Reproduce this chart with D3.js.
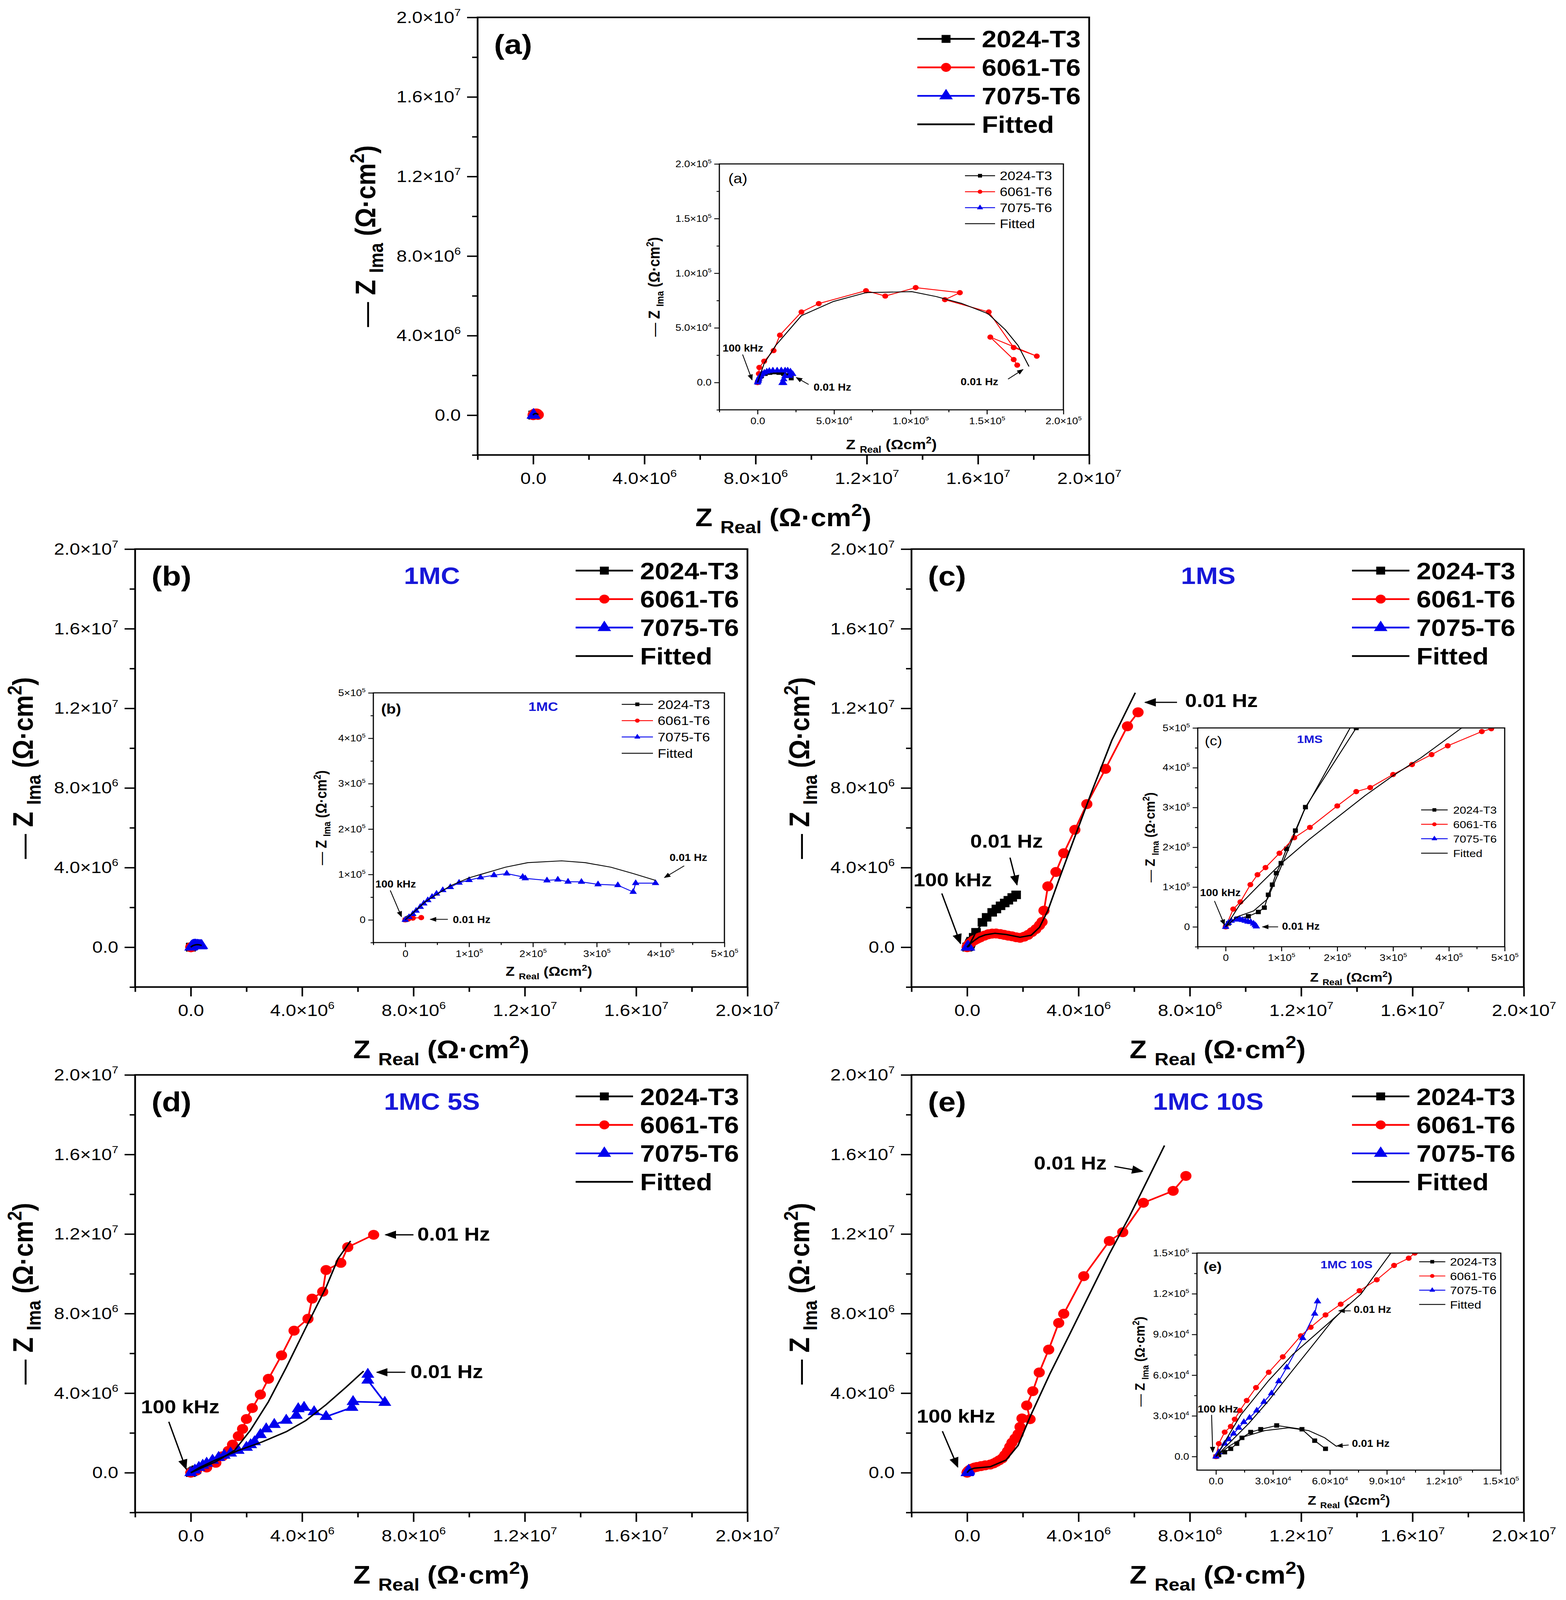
<!DOCTYPE html>
<html>
<head>
<meta charset="utf-8">
<script src="https://cdn.jsdelivr.net/npm/d3@7"></script>
<style>
  html, body { margin: 0; padding: 0; background: #fff; overflow: hidden; }
  #fig { display: block; width: 100vw; height: 100vh; }
  text { font-family: "Liberation Sans", Arial, sans-serif; }
</style>
</head>
<body>
<svg id="fig" viewBox="0 0 4010 4607" preserveAspectRatio="none"></svg>
<script>
// ---- data (Z real, -Z imaginary) ----
const legendNames = ["2024-T3", "6061-T6", "7075-T6", "Fitted"];

const mainMajor = [0, 4e6, 8e6, 1.2e7, 1.6e7, 2e7];
const mainMinor = [-2e6, 2e6, 6e6, 1e7, 1.4e7, 1.8e7];
const insetMajorA = [0, 5e4, 1e5, 1.5e5, 2e5];
const insetMinorA = [-2.5e4, 2.5e4, 7.5e4, 1.25e5, 1.75e5];
const insetMajorBC = [0, 1e5, 2e5, 3e5, 4e5, 5e5];
const insetMinorBC = [-5e4, 5e4, 1.5e5, 2.5e5, 3.5e5, 4.5e5];
const insetMajorE = [0, 3e4, 6e4, 9e4, 1.2e5, 1.5e5];
const insetMinorE = [1.5e4, 4.5e4, 7.5e4, 1.05e5, 1.35e5];

// (a) bare
const a2024 = [[0,0],[1000,3000],[2500,6000],[5000,8000],[8000,9000],[11000,9500],[14000,9000],[17000,8000],[20000,6500],[22000,4000]];
const a6061 = [[0,0],[800,8000],[1100,13700],[4300,19500],[10500,29200],[14600,43300],[28700,64500],[40000,72200],[70900,84000],[83500,79100],[103400,86800],[132300,82200],[122500,75800],[151200,64500],[167500,32000],[182600,24100],[152200,41500],[167500,21000],[169800,15900]];
const a7075 = [[0,0],[300,1200],[500,2000],[800,3600],[1300,5000],[2000,6500],[3000,7800],[4400,9000],[6000,9900],[7700,10600],[10000,10900],[12800,10900],[15500,11000],[18000,10900],[19700,10900],[21500,10000],[23000,7700],[21000,6000],[17900,5800],[17100,3000],[17100,-500],[16000,-500]];
const aFit6061 = [[0,0],[4300,17400],[11800,33800],[28700,61200],[49300,74000],[70900,82200],[100900,83100],[116900,78600],[133800,72200],[150700,63000],[161900,48400],[170400,33800],[177500,14600]];

// (b) 1MC
const b2024 = [[0,0],[3000,3000],[6000,5000],[9000,6000]];
const b6061 = [[0,0],[5000,2000],[12000,4000],[25000,5000]];
const b7075 = [[0,0],[6000,6000],[11800,12800],[17000,20000],[23500,28400],[29000,36000],[35300,43200],[42000,50500],[49000,57600],[58800,65400],[70600,72000],[84300,81700],[100000,87500],[118000,93400],[139000,98400],[159000,102000],[184000,94600],[188000,91400],[222000,86800],[239000,88700],[255000,84000],[276000,83700],[302000,78200],[333000,76300],[357000,61500],[361000,80900],[392000,80900]];
const bFit7075 = [[0,0],[31400,40000],[70600,75000],[100000,92600],[118000,100000],[157000,116000],[192000,126000],[245000,130000],[282000,126000],[322000,116000],[357000,102000],[392000,87000]];

// (c) 1MS
const c2024 = [[0,0],[5000,8600],[19300,19400],[40700,26600],[58600,37400],[69300,48200],[76400,80600],[83600,106000],[90700,135000],[99300,160000],[109000,196000],[125000,242000],[143000,301000],[234000,500000],[320000,750000],[550000,1250000],[700000,1500000],[900000,1750000],[1050000,1920000],[1200000,2080000],[1350000,2220000],[1480000,2360000],[1620000,2500000],[1760000,2630000]];
const c6061 = [[0,0],[13600,44600],[26400,62600],[44300,106000],[57100,131000],[71400,149000],[96400,185000],[123000,224000],[151000,250000],[200000,304000],[234000,340000],[259000,350000],[300000,383000],[334000,408000],[369000,433000],[398000,455000],[459000,491000],[476000,498000],[620000,580000],[760000,650000],[900000,685000],[1040000,690000],[1190000,660000],[1330000,620000],[1470000,580000],[1610000,550000],[1760000,500000],[1900000,470000],[2050000,530000],[2190000,620000],[2330000,760000],[2470000,910000],[2600000,1100000],[2690000,1270000],[2760000,1840000],[2900000,3060000],[3190000,3780000],[3470000,4720000],[3870000,5900000],[4300000,7190000],[4970000,8960000],[5760000,11100000],[6140000,11800000]];
const c7075 = [[0,0],[5000,10000],[10000,15000],[18000,18000],[25000,20000],[30000,17000],[35000,15000],[40000,13000],[45000,12000],[50000,8000],[53000,4000],[55000,1000]];
const cFit2024 = [[0,0],[20000,25000],[50000,40000],[75000,70000],[90000,120000],[105000,170000],[140000,290000],[223000,500000],[320000,780000],[600000,1300000],[900000,1780000],[1300000,2200000],[1760000,2630000]];
const cFit6061 = [[0,0],[25000,55000],[60000,105000],[100000,160000],[150000,220000],[200000,275000],[250000,330000],[300000,380000],[350000,425000],[423000,500000],[650000,620000],[1000000,700000],[1400000,640000],[1900000,500000],[2300000,600000],[2600000,1000000],[2900000,1840000],[3300000,3400000],[3830000,5400000],[4500000,7900000],[5200000,10400000],[6040000,12780000]];

// (d) 1MC 5S
const d2024 = [[0,0],[60000,50000],[120000,100000],[200000,150000]];
const d6061 = [[0,0],[200000,100000],[570000,260000],[900000,500000],[1140000,830000],[1350000,1100000],[1500000,1410000],[1710000,1840000],[1860000,2200000],[2000000,2700000],[2210000,3250000],[2500000,3930000],[2790000,4720000],[3260000,5900000],[3710000,7140000],[4210000,7740000],[4360000,8750000],[4740000,9100000],[4860000,10190000],[5390000,10550000],[5640000,11340000],[6570000,11960000]];
const d7075 = [[0,0],[150000,130000],[290000,260000],[430000,370000],[570000,470000],[780000,620000],[1000000,760000],[1200000,870000],[1430000,980000],[1700000,1120000],[2000000,1270000],[2150000,1400000],[2290000,1550000],[2500000,1910000],[2710000,2200000],[3000000,2420000],[3430000,2630000],[3790000,2880000],[3860000,3210000],[4070000,3280000],[4430000,3060000],[4860000,2820000],[5790000,3280000],[5830000,3570000],[6970000,3530000],[6360000,4650000],[6360000,4940000]];
const dFit6061 = [[0,0],[400000,250000],[900000,550000],[1570000,1120000],[2140000,2130000],[2790000,3570000],[3430000,5290000],[4140000,7310000],[4860000,9320000],[5290000,10760000],[5740000,11650000]];
const dFit7075 = [[0,0],[300000,250000],[860000,620000],[1710000,1120000],[2570000,1550000],[3430000,2060000],[4140000,2630000],[4860000,3420000],[5570000,4290000],[6210000,5110000]];

// (e) 1MC 10S
const e2024 = [[0,0],[1500,1100],[4600,3200],[7800,5700],[11000,9500],[13700,13800],[18300,18000],[23600,20100],[32000,22900],[45300,20100],[52000,11700],[57700,5700]];
const e6061 = [[0,0],[1500,9500],[4600,18000],[7800,22200],[9900,27500],[12600,33900],[16200,41300],[21100,50800],[27800,62100],[35200,73500],[44700,89000],[49900,95300],[57700,104400],[65700,112300],[75600,122200],[84700,130300],[93800,140900],[101500,146200],[104700,150000],[150000,200000],[260000,260000],[350000,290000],[500000,330000],[650000,370000],[830000,410000],[950000,470000],[1050000,540000],[1150000,620000],[1260000,720000],[1350000,880000],[1450000,1080000],[1530000,1300000],[1610000,1510000],[1720000,1720000],[1830000,1940000],[1900000,2300000],[1970000,2730000],[2260000,2690000],[2140000,3380000],[2360000,4100000],[2590000,5040000],[2930000,6190000],[3290000,7530000],[3470000,7990000],[4190000,9880000],[5110000,11650000],[5590000,12090000],[6330000,13570000],[7400000,14170000],[7860000,14920000]];
const e7075 = [[0,0],[1500,3200],[4600,9500],[6700,12700],[9300,16900],[12000,21200],[14700,25400],[17700,28600],[21500,33900],[25300,40300],[29300,46600],[33100,55500],[37300,65700],[45700,87300],[52000,105300],[53500,114400]];
const eFit2024 = [[0,0],[6700,7400],[15200,14800],[25700,19100],[38300,21200],[48900,19100],[57300,13800],[63600,7400]];
const eFit6061 = [[0,0],[13100,30700],[27800,56100],[40400,75200],[59400,98500],[76300,119700],[92100,150000],[260000,230000],[830000,300000],[1400000,640000],[1830000,1370000],[2260000,2810000],[2970000,4960000],[3690000,6980000],[4400000,8990000],[5110000,11000000],[5830000,12880000],[6540000,14890000],[7090000,16450000]];
const eFit7075 = [[0,0],[6700,9500],[17300,24400],[27800,41300],[40400,63600],[53100,85800],[61500,100600],[69900,112300]];

// ---- drawing ----
const svg = d3.select("#fig");
svg.append("rect").attr("width", 4010).attr("height", 4607).attr("fill", "#fff");
const defs = svg.append("defs");

function arrowDef(id, w, h) {
  defs.append("marker").attr("id", id)
    .attr("viewBox", "0 0 10 8").attr("refX", 9).attr("refY", 4)
    .attr("markerWidth", w).attr("markerHeight", h)
    .attr("markerUnits", "userSpaceOnUse").attr("orient", "auto")
    .append("path").attr("d", "M0,0L10,4L0,8Z").attr("fill", "#000");
}
arrowDef("arrMain", 30, 24);
arrowDef("arrInset", 17, 14);

const RED = "#ff0000", BLUE = "#0000ee", TITLE_BLUE = "#1717d8";
const symFor = [d3.symbolSquare, d3.symbolCircle, d3.symbolTriangle];
const colFor = ["#000", RED, BLUE];

const mainSt = { frame: 4.5, tickMaj: 27, tickMin: 14, tickW: 4, tickFont: 48, padX: 22, padY: 16,
  line: 4.5, fitW: 4, msize: [600, 640, 480], arrow: "arrMain", arrowW: 3.5, noteFont: 54 };
const insetSt = { frame: 3, tickMaj: 13, tickMin: 7, tickW: 2.5, tickFont: 27, padX: 9, padY: 7,
  line: 2.5, fitW: 2.5, msize: [160, 180, 160], arrow: "arrInset", arrowW: 2.2, noteFont: 28 };

let clipN = 0;

function sciLabel(t, v, dec, fs) {
  t.text(null);
  if (v === 0) { t.append("tspan").text(dec ? "0.0" : "0"); return; }
  const e = Math.floor(Math.log10(Math.abs(v)) + 1e-9);
  const m = v / Math.pow(10, e);
  t.append("tspan").text(m.toFixed(dec) + "×10");
  t.append("tspan").attr("dy", -0.42 * fs).attr("font-size", 0.62 * fs).text(e);
}

function drawPlot(o) {
  const st = o.st;
  const x = d3.scaleLinear().domain(o.xd).range([o.x0, o.x0 + o.w]);
  const y = d3.scaleLinear().domain(o.yd).range([o.y0 + o.h, o.y0]);
  const g = svg.append("g");
  if (o.inset) g.append("rect").attr("x", o.x0).attr("y", o.y0).attr("width", o.w).attr("height", o.h).attr("fill", "#fff");
  const cid = "clip" + (clipN++);
  defs.append("clipPath").attr("id", cid).append("rect")
    .attr("x", o.x0).attr("y", o.y0).attr("width", o.w).attr("height", o.h);

  const tidy = ax => {
    ax.select(".domain").remove();
    ax.attr("font-family", null).attr("font-size", st.tickFont);
    ax.selectAll(".tick line").attr("stroke-width", st.tickW);
  };
  g.append("g").attr("transform", `translate(0,${o.y0 + o.h})`)
    .call(d3.axisBottom(x).tickValues(o.xMinor).tickSize(st.tickMin).tickFormat(() => "")).call(tidy);
  g.append("g").attr("transform", `translate(${o.x0},0)`)
    .call(d3.axisLeft(y).tickValues(o.yMinor).tickSize(st.tickMin).tickFormat(() => "")).call(tidy);
  const xa = g.append("g").attr("transform", `translate(0,${o.y0 + o.h})`)
    .call(d3.axisBottom(x).tickValues(o.xMajor).tickSize(st.tickMaj).tickPadding(st.padX)).call(tidy);
  xa.selectAll(".tick text").each(function (d) { sciLabel(d3.select(this), d, o.dec, st.tickFont); });
  const ya = g.append("g").attr("transform", `translate(${o.x0},0)`)
    .call(d3.axisLeft(y).tickValues(o.yMajor).tickSize(st.tickMaj).tickPadding(st.padY)).call(tidy);
  ya.selectAll(".tick text").each(function (d) { sciLabel(d3.select(this), d, o.dec, st.tickFont); });

  const pg = g.append("g").attr("clip-path", `url(#${cid})`);
  const line = d3.line().x(d => x(d[0])).y(d => y(d[1]));
  o.series.forEach((data, i) => {
    if (!data) return;
    pg.append("path").attr("d", line(data)).attr("fill", "none")
      .attr("stroke", colFor[i]).attr("stroke-width", st.line).attr("stroke-linejoin", "round");
    pg.append("g").selectAll("path").data(data).join("path")
      .attr("transform", d => `translate(${x(d[0])},${y(d[1])})`)
      .attr("d", d3.symbol(symFor[i], st.msize[i])).attr("fill", colFor[i]);
  });
  o.fits.forEach(f => {
    pg.append("path").attr("d", line(f)).attr("fill", "none")
      .attr("stroke", "#000").attr("stroke-width", st.fitW).attr("stroke-linejoin", "round");
  });
  g.append("rect").attr("x", o.x0).attr("y", o.y0).attr("width", o.w).attr("height", o.h)
    .attr("fill", "none").attr("stroke", "#000").attr("stroke-width", st.frame);

  (o.notes || []).forEach(n => {
    g.append("line")
      .attr("x1", x(n.from[0])).attr("y1", y(n.from[1]))
      .attr("x2", x(n.to[0])).attr("y2", y(n.to[1]))
      .attr("stroke", "#000").attr("stroke-width", st.arrowW)
      .attr("marker-end", `url(#${st.arrow})`);
    g.append("text").attr("x", x(n.tx)).attr("y", y(n.ty))
      .attr("font-size", st.noteFont).attr("font-weight", "bold").text(n.t);
  });
  return { x, y, g, o };
}

function drawLegend(p, L) {
  const R = p.o.x0 + p.o.w, T = p.o.y0;
  legendNames.forEach((name, i) => {
    const yy = T + L.top + i * L.dy;
    p.g.append("line").attr("x1", R - L.l1).attr("x2", R - L.l2).attr("y1", yy).attr("y2", yy)
      .attr("stroke", i < 3 ? colFor[i] : "#000").attr("stroke-width", L.lw);
    if (i < 3) {
      p.g.append("path").attr("transform", `translate(${R - (L.l1 + L.l2) / 2},${yy})`)
        .attr("d", d3.symbol(symFor[i], L.ms)).attr("fill", colFor[i]);
    }
    p.g.append("text").attr("x", R - L.tx).attr("y", yy).attr("dy", "0.36em")
      .attr("font-size", L.fs).attr("font-weight", L.bold ? "bold" : "normal").text(name);
  });
}

function xTitle(p, dy, big, small, dot) {
  const t = p.g.append("text").attr("x", p.o.x0 + p.o.w / 2).attr("y", p.o.y0 + p.o.h + dy)
    .attr("text-anchor", "middle").attr("font-weight", "bold").attr("font-size", big);
  t.append("tspan").text("Z ");
  t.append("tspan").attr("font-size", small).attr("dy", small * 0.4).text("Real");
  t.append("tspan").attr("dy", -small * 0.4).text(dot ? " (Ω·cm" : " (Ωcm");
  t.append("tspan").attr("font-size", small).attr("dy", -big * 0.4).text("2");
  t.append("tspan").attr("dy", big * 0.4).text(")");
}

function yTitle(p, dx, big, small) {
  const t = p.g.append("text")
    .attr("transform", `translate(${p.o.x0 + dx},${p.o.y0 + p.o.h / 2}) rotate(-90)`)
    .attr("text-anchor", "middle").attr("font-weight", "bold").attr("font-size", big);
  t.append("tspan").attr("font-weight", "normal").text("— ");
  t.append("tspan").text("Z ");
  t.append("tspan").attr("font-size", small).attr("dy", small * 0.4).text("Ima");
  t.append("tspan").attr("dy", -small * 0.4).text(" (Ω·cm");
  t.append("tspan").attr("font-size", small).attr("dy", -big * 0.4).text("2");
  t.append("tspan").attr("dy", big * 0.4).text(")");
}

function labels(p, tag, sub, L) {
  p.g.append("text").attr("x", p.o.x0 + L.tagX).attr("y", p.o.y0 + L.tagY)
    .attr("font-size", L.tagFs).attr("font-weight", L.tagBold ? "bold" : "normal").text(tag);
  if (sub) p.g.append("text").attr("x", p.o.x0 + L.subX).attr("y", p.o.y0 + L.subY)
    .attr("text-anchor", "middle").attr("font-size", L.subFs).attr("font-weight", "bold")
    .attr("fill", TITLE_BLUE).text(sub);
}

const mainDom = { xd: [-2e6, 2e7], yd: [-2e6, 2e7], xMajor: mainMajor, yMajor: mainMajor,
  xMinor: mainMinor, yMinor: mainMinor, dec: 1, st: mainSt };
const mainLegend = { top: 62, dy: 82, l1: 440, l2: 293, tx: 275, lw: 5, ms: 520, fs: 68, bold: true };
const mainLab = { tagX: 42, tagY: 105, tagFs: 80, tagBold: true, subX: 760, subY: 100, subFs: 68 };

function mainPanel(box, series, fits, notes, tag, sub) {
  const p = drawPlot(Object.assign({}, mainDom, box, { series, fits, notes }));
  drawLegend(p, mainLegend);
  labels(p, tag, sub, mainLab);
  xTitle(p, 205, 72, 50, true);
  yTitle(p, -262, 72, 50);
  return p;
}

// (a)
mainPanel({ x0: 1223, y0: 50, w: 1566, h: 1260 }, [a2024, a6061, a7075], [aFit6061], [], "(a)", null);
const pai = drawPlot({ x0: 1842, y0: 472, w: 881, h: 708, inset: true, st: insetSt,
  xd: [-2.5e4, 2e5], yd: [-2.5e4, 2e5], xMajor: insetMajorA, yMajor: insetMajorA,
  xMinor: insetMinorA, yMinor: insetMinorA, dec: 1,
  series: [a2024, a6061, a7075], fits: [aFit6061],
  notes: [
    { t: "100 kHz", tx: -2.29e4, ty: 2.83e4, from: [-9.8e3, 2.56e4], to: [-3.6e3, 2.4e3] },
    { t: "0.01 Hz", tx: 3.66e4, ty: -7.3e3, from: [3.34e4, -1.8e3], to: [2.53e4, 4.6e3] },
    { t: "0.01 Hz", tx: 1.328e5, ty: -2.4e3, from: [1.638e5, 3.1e3], to: [1.736e5, 1.19e4] }
  ] });
drawLegend(pai, { top: 34, dy: 46, l1: 252, l2: 175, tx: 163, lw: 2.5, ms: 110, fs: 36, bold: false });
labels(pai, "(a)", null, { tagX: 23, tagY: 55, tagFs: 40, tagBold: false });
xTitle(pai, 113, 40, 26, false);
yTitle(pai, -153, 40, 26);

// (b)
mainPanel({ x0: 346, y0: 1581, w: 1568, h: 1261 }, [b2024, b6061, b7075], [bFit7075], [], "(b)", "1MC");
const pbi = drawPlot({ x0: 956, y0: 1995, w: 899, h: 719, inset: true, st: insetSt,
  xd: [-5e4, 5e5], yd: [-5e4, 5e5], xMajor: insetMajorBC, yMajor: insetMajorBC,
  xMinor: insetMinorBC, yMinor: insetMinorBC, dec: 0,
  series: [b2024, b6061, b7075], fits: [bFit7075],
  notes: [
    { t: "100 kHz", tx: -4.7e4, ty: 7.1e4, from: [-2.35e4, 6.5e4], to: [-5.9e3, 7e3] },
    { t: "0.01 Hz", tx: 7.45e4, ty: -6.6e3, from: [6.67e4, 1.2e3], to: [3.92e4, 1.2e3] },
    { t: "0.01 Hz", tx: 4.14e5, ty: 1.3e5, from: [4.37e5, 1.19e5], to: [4.06e5, 9.3e4] }
  ] });
drawLegend(pbi, { top: 33, dy: 47, l1: 263, l2: 183, tx: 171, lw: 2.5, ms: 110, fs: 36, bold: false });
labels(pbi, "(b)", "1MC", { tagX: 20, tagY: 60, tagFs: 40, tagBold: true, subX: 435, subY: 52, subFs: 36 });
xTitle(pbi, 96, 38, 25, false);
yTitle(pbi, -120, 38, 25);

// (c)
mainPanel({ x0: 2334, y0: 1581, w: 1568, h: 1261 }, [c2024, c6061, c7075], [cFit2024, cFit6061], [
  { t: "100 kHz", tx: -1.93e6, ty: 3.06e6, from: [-0.91e6, 2.7e6], to: [-0.24e6, 0.19e6] },
  { t: "0.01 Hz", tx: 0.11e6, ty: 5.0e6, from: [1.54e6, 4.5e6], to: [1.79e6, 3.14e6] },
  { t: "0.01 Hz", tx: 7.83e6, ty: 12.06e6, from: [7.54e6, 12.3e6], to: [6.4e6, 12.3e6] }
], "(c)", "1MS");
const pci = drawPlot({ x0: 3067, y0: 2096, w: 786, h: 630, inset: true, st: insetSt,
  xd: [-5e4, 5e5], yd: [-5e4, 5e5], xMajor: insetMajorBC, yMajor: insetMajorBC,
  xMinor: insetMinorBC, yMinor: insetMinorBC, dec: 0,
  series: [c2024, c6061, c7075], fits: [cFit2024, cFit6061],
  notes: [
    { t: "100 kHz", tx: -4.6e4, ty: 7.7e4, from: [-2e4, 6.5e4], to: [-2e3, 5e3] },
    { t: "0.01 Hz", tx: 1.01e5, ty: -7e3, from: [9.4e4, 0], to: [6.6e4, 0] }
  ] });
drawLegend(pci, { top: 236, dy: 41.5, l1: 214, l2: 146, tx: 132, lw: 2.5, ms: 100, fs: 30, bold: false });
labels(pci, "(c)", "1MS", { tagX: 18, tagY: 50, tagFs: 38, tagBold: false, subX: 287, subY: 43, subFs: 32 });
xTitle(pci, 101, 36, 24, false);
yTitle(pci, -110, 36, 24);

// (d)
mainPanel({ x0: 346, y0: 3095, w: 1568, h: 1260 }, [d2024, d6061, d7075], [dFit6061, dFit7075], [
  { t: "100 kHz", tx: -1.79e6, ty: 2.99e6, from: [-0.79e6, 2.56e6], to: [-0.17e6, 0.19e6] },
  { t: "0.01 Hz", tx: 8.14e6, ty: 11.67e6, from: [8.0e6, 11.96e6], to: [7.0e6, 11.96e6] },
  { t: "0.01 Hz", tx: 7.89e6, ty: 4.75e6, from: [7.71e6, 5.05e6], to: [6.69e6, 5.05e6] }
], "(d)", "1MC 5S");

// (e)
mainPanel({ x0: 2334, y0: 3095, w: 1568, h: 1260 }, [null, e6061, e7075], [eFit6061], [
  { t: "100 kHz", tx: -1.81e6, ty: 2.52e6, from: [-0.89e6, 2.09e6], to: [-0.34e6, 0.29e6] },
  { t: "0.01 Hz", tx: 2.4e6, ty: 15.25e6, from: [5.29e6, 15.4e6], to: [6.3e6, 15.15e6] }
], "(e)", "1MC 10S");
const pei = drawPlot({ x0: 3065, y0: 3608, w: 778, h: 625, inset: true, st: insetSt,
  xd: [-1e4, 1.5e5], yd: [-1e4, 1.5e5], xMajor: insetMajorE, yMajor: insetMajorE,
  xMinor: insetMinorE, yMinor: insetMinorE, dec: 1,
  series: [e2024, e6061, e7075], fits: [eFit2024, eFit6061, eFit7075],
  notes: [
    { t: "100 kHz", tx: -9.7e3, ty: 3.24e4, from: [-2.3e3, 3.07e4], to: [-1.7e3, 3.2e3] },
    { t: "0.01 Hz", tx: 7.25e4, ty: 1.059e5, from: [7.1e4, 1.074e5], to: [6.47e4, 1.074e5] },
    { t: "0.01 Hz", tx: 7.16e4, ty: 7e3, from: [6.99e4, 8.5e3], to: [6.36e4, 7.8e3] }
  ] });
drawLegend(pei, { top: 25, dy: 41, l1: 209, l2: 142, tx: 130, lw: 2.5, ms: 100, fs: 32, bold: false });
labels(pei, "(e)", "1MC 10S", { tagX: 17, tagY: 52, tagFs: 38, tagBold: true, subX: 383, subY: 44, subFs: 32 });
xTitle(pei, 100, 36, 24, false);
yTitle(pei, -134, 36, 24);
</script>
</body>
</html>
